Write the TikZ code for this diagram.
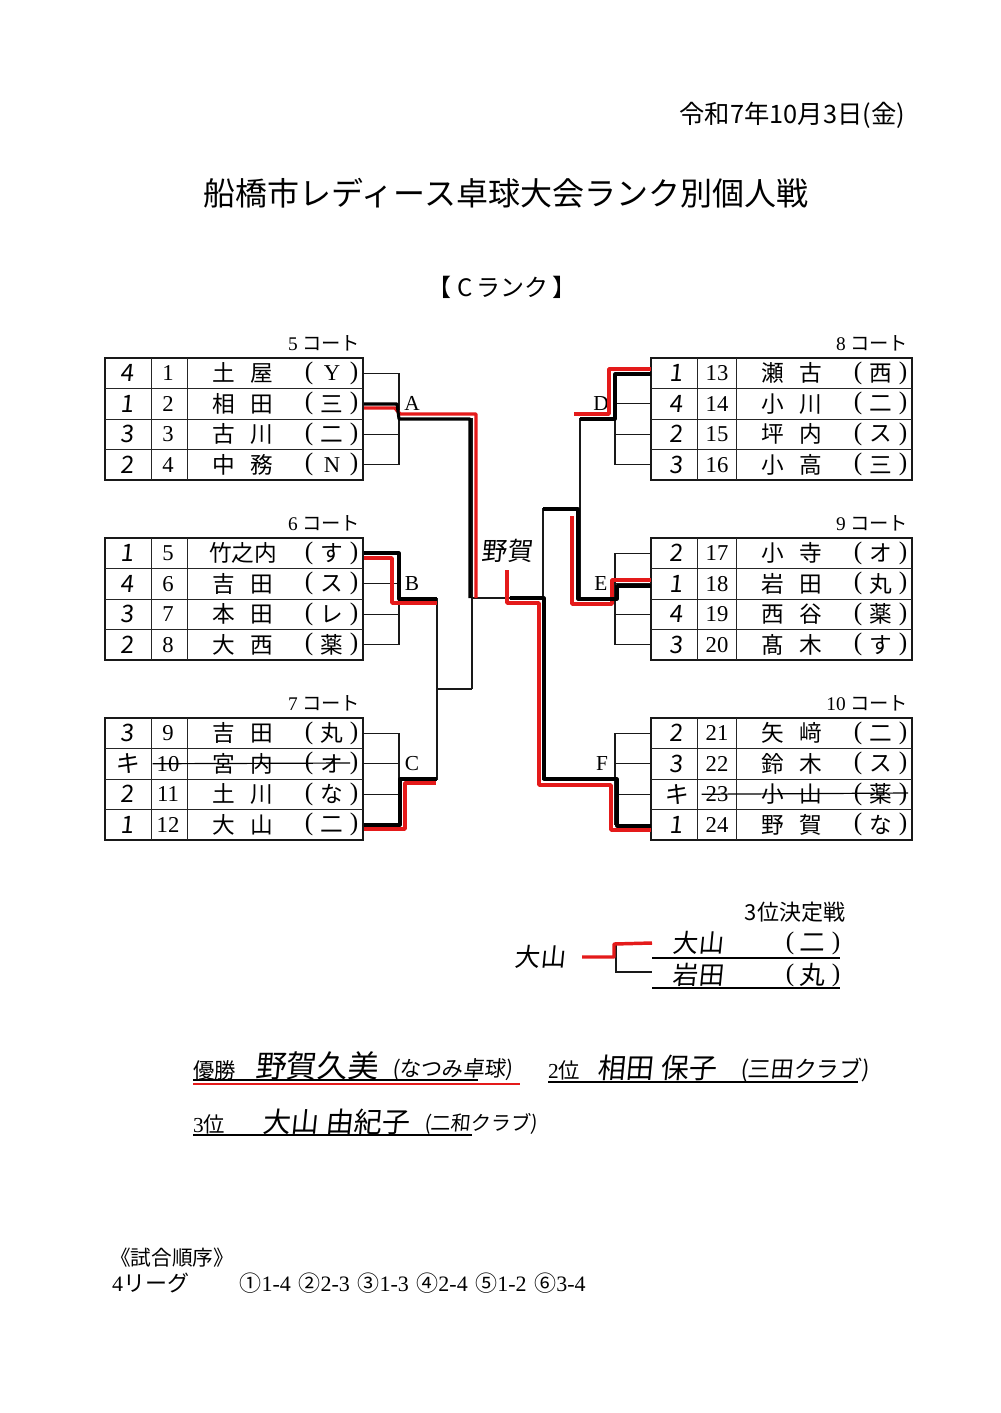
\documentclass[tikz,border=0pt]{standalone}
\usepackage{fontspec}
\setmainfont{Liberation Serif}
\newfontfamily\cjk{Noto Sans CJK JP}
\newfontfamily\hand[FakeSlant=0.1]{Noto Sans CJK JP}
\newcommand\fs[1]{\fontsize{#1}{#1}\selectfont}
\newcommand\nsep{\hspace{11.5pt}}
\definecolor{hlred}{RGB}{228,26,26}
\newcommand\PRow[7]{%
  \node[hnd]   (rk#7) at (#1-60,#2) {#3};
  \node[numf]  (no#7) at (#1-19,#2) {#4};
  \node[namef] (nm#7) at (#1+56,#2) {#5};
  \node[parf]  (po#7) at (#1+122,#2) {(};
  \node[namef] (af#7) at (#1+145,#2) {#6};
  \node[parf]  (pc#7) at (#1+167,#2) {)};
}
\newcommand\Tbl[5]{%
  \draw[tbl] (#1,#5) rectangle (#4,#5+122);
  \draw[tin] (#2,#5) -- (#2,#5+122) (#3,#5) -- (#3,#5+122);
  \foreach \k in {30.5,61,91.5} \draw[tin] (#1,#5+\k) -- (#4,#5+\k);
}
\newcommand\BrL[2]{%
  \foreach \k in {15.25,45.75,76.25,106.75} \draw[brk] (363,#1+\k) -- (399,#1+\k);
  \draw[brk] (399,#1+15.25) -- (399,#1+106.75);
  \coordinate (#2) at (399,#1+61);
}
\newcommand\BrR[2]{%
  \foreach \k in {15.25,45.75,76.25,106.75} \draw[brk] (651,#1+\k) -- (615,#1+\k);
  \draw[brk] (615,#1+15.25) -- (615,#1+106.75);
  \coordinate (#2) at (615,#1+61);
}
\begin{document}
\begin{tikzpicture}[x=0.75pt,y=-0.75pt,
  every node/.style={inner sep=0pt,outer sep=0pt},
  tbl/.style={line width=1.1pt,black!90},
  tin/.style={line width=0.7pt,black!85},
  brk/.style={line width=0.8pt,black!90},
  winb/.style={line width=2.3pt,black,line join=round},
  winr/.style={line width=2.6pt,hlred,line join=round},
  hnd/.style={font=\hand\fs{18}},
  numf/.style={font=\fs{17}},
  namef/.style={font=\cjk\fs{17}},
  parf/.style={font=\fs{19}},
  lbl/.style={font=\fs{16}},
  court/.style={font=\cjk\fs{14.5},anchor=east},
  hw/.style={font=\hand\fs{19}}]
\fill[white] (0,0) rectangle (1000,1413);
\useasboundingbox (0,0) rectangle (1000,1413);

% header
\node[font=\cjk\fs{19},anchor=east] (date) at (905,115) {令和7年10月3日(金)};
\node[font=\cjk\fs{24}] (title) at (506,193) {船橋市レディース卓球大会ランク別個人戦};
\node[font=\cjk\fs{18}] (rank) at (502,287) {【\hspace{5pt}C\hspace{3pt}ランク\hspace{3pt}】};

% court labels
\node[court] (k5) at (360,343) {{\rmfamily 5} コート};
\node[court] (k6) at (360,523) {{\rmfamily 6} コート};
\node[court] (k7) at (360,703) {{\rmfamily 7} コート};
\node[court] (k8) at (908,343) {{\rmfamily 8} コート};
\node[court] (k9) at (908,523) {{\rmfamily 9} コート};
\node[court] (k10) at (908,703) {{\rmfamily 10} コート};

% tables
\Tbl{105}{151}{187}{363}{358}
\Tbl{105}{151}{187}{363}{538}
\Tbl{105}{151}{187}{363}{718}
\Tbl{651}{697}{736}{912}{358}
\Tbl{651}{697}{736}{912}{538}
\Tbl{651}{697}{736}{912}{718}

% rows
\PRow{187}{373.25}{4}{1}{土\nsep 屋}{{\rmfamily Y}}{1}
\PRow{187}{403.75}{1}{2}{相\nsep 田}{三}{2}
\PRow{187}{434.25}{3}{3}{古\nsep 川}{二}{3}
\PRow{187}{464.75}{2}{4}{中\nsep 務}{{\rmfamily N}}{4}
\PRow{187}{553.25}{1}{5}{竹之内}{す}{5}
\PRow{187}{583.75}{4}{6}{吉\nsep 田}{ス}{6}
\PRow{187}{614.25}{3}{7}{本\nsep 田}{レ}{7}
\PRow{187}{644.75}{2}{8}{大\nsep 西}{薬}{8}
\PRow{187}{733.25}{3}{9}{吉\nsep 田}{丸}{9}
\PRow{187}{763.75}{キ}{10}{宮\nsep 内}{オ}{10}
\PRow{187}{794.25}{2}{11}{土\nsep 川}{な}{11}
\PRow{187}{824.75}{1}{12}{大\nsep 山}{二}{12}
\PRow{736}{373.25}{1}{13}{瀬\nsep 古}{西}{13}
\PRow{736}{403.75}{4}{14}{小\nsep 川}{二}{14}
\PRow{736}{434.25}{2}{15}{坪\nsep 内}{ス}{15}
\PRow{736}{464.75}{3}{16}{小\nsep 高}{三}{16}
\PRow{736}{553.25}{2}{17}{小\nsep 寺}{オ}{17}
\PRow{736}{583.75}{1}{18}{岩\nsep 田}{丸}{18}
\PRow{736}{614.25}{4}{19}{西\nsep 谷}{薬}{19}
\PRow{736}{644.75}{3}{20}{髙\nsep 木}{す}{20}
\PRow{736}{733.25}{2}{21}{矢\nsep 﨑}{二}{21}
\PRow{736}{763.75}{3}{22}{鈴\nsep 木}{ス}{22}
\PRow{736}{794.25}{キ}{23}{小\nsep 山}{薬}{23}
\PRow{736}{824.75}{1}{24}{野\nsep 賀}{な}{24}

% strike-through of withdrawn players
\draw[line width=0.9pt] (no10.west) ++(-4,0) -- (350,763);
\draw[line width=0.9pt] (no23.west) ++(-4,0) -- (908,793);

% group brackets
\BrL{358}{Aout}
\BrL{538}{Bout}
\BrL{718}{Cout}
\BrR{358}{Dout}
\BrR{538}{Eout}
\BrR{718}{Fout}
\node[lbl] (LA) at (412,403.75) {A};
\node[lbl] (LB) at (412,583.75) {B};
\node[lbl] (LC) at (412,763.75) {C};
\node[lbl] (LD) at (601,403.75) {D};
\node[lbl] (LE) at (601,583.75) {E};
\node[lbl] (LF) at (602,763.75) {F};

% main bracket
\coordinate (s1) at (472,419);
\coordinate (s1b) at (472,689);
\coordinate (fl) at (472,598);
\coordinate (fr) at (543,598);
\coordinate (s2) at (580,419);
\coordinate (s2b) at (580,599);
\draw[brk] (Aout) -- (s1) -- (s1b);
\draw[brk] (Bout) -- (437,599) -- (437,779) -- (Cout);
\draw[brk] (437,689) -- (s1b);
\draw[brk] (fl) -- (fr);
\draw[brk] (Dout) -- (s2) -- (s2b) -- (Eout);
\draw[brk] (580,509) -- (543,509) -- (543,779) -- (Fout);

% winner marks (red + black)
\draw[winr] (364,408) -- (395,408) -- (400,414) -- (476,414) -- (476,598);
\draw[winb] (364,404) -- (397,404) -- (399,419) -- (470,419) -- (470,598);
\draw[winr] (364,558) -- (392,558) -- (392,603) -- (437,603);
\draw[winb] (364,553) -- (399,553) -- (399,599) -- (437,599);
\draw[winr] (364,829) -- (405,829) -- (405,783) -- (436,783);
\draw[winb] (364,825) -- (400,825) -- (400,779) -- (437,779);
\draw[winr] (651,369) -- (609,369) -- (609,414) -- (574,414);
\draw[winb] (651,374) -- (615,374) -- (615,419) -- (580,419);
\draw[winr] (651,580) -- (612,580) -- (612,604) -- (572,604) -- (572,516);
\draw[winb] (651,586) -- (617,586) -- (617,599) -- (578,599) -- (578,509) -- (543,509);
\draw[winr] (651,830) -- (611,830) -- (611,785) -- (539,785) -- (539,603) -- (507,603) -- (507,570);
\draw[winb] (651,826) -- (617,826) -- (617,779) -- (544,779) -- (544,598) -- (510,598);
\node[hw] (champ) at (507,551) {野賀};

% third place
\node[font=\cjk\fs{16.5}] (t3) at (795,912) {3位決定戦};
\coordinate (q1) at (652,943);
\coordinate (q2) at (652,972);
\draw[brk] (q1) -- (616,943) -- (616,972) -- (q2);
\draw[winr] (582,957) -- (614,957) -- (614,944) -- (q1);
\draw[line width=0.8pt] (652,958) -- (840,958);
\draw[line width=0.8pt] (652,988) -- (840,988);
\node[hw] (w3) at (540,957) {大山};
\node[hw] (p31) at (698,943) {大山};
\node[parf] (p31o) at (790,943) {(};
\node[hw] (p31a) at (812,943) {二};
\node[parf] (p31c) at (836,943) {)};
\node[hw] (p32) at (698,975) {岩田};
\node[parf] (p32o) at (790,975) {(};
\node[hw] (p32a) at (812,975) {丸};
\node[parf] (p32c) at (836,975) {)};

% results
\node[font=\cjk\fs{16},anchor=west] (r1) at (193,1070) {優勝};
\node[font=\hand\fs{23},anchor=west] (r1n) at (255,1066) {野賀久美};
\node[font=\hand\fs{16},anchor=west] (r1c) at (392,1070) {(なつみ卓球)};
\node[font=\cjk\fs{16},anchor=west] (r2) at (548,1070) {{\rmfamily 2}位};
\node[font=\hand\fs{21},anchor=west] (r2n) at (597,1068) {相田\hspace{6pt}保子};
\node[font=\hand\fs{17},anchor=west] (r2c) at (740,1070) {(三田クラブ)};
\node[font=\cjk\fs{16},anchor=west] (r3) at (193,1124) {{\rmfamily 3}位};
\node[font=\hand\fs{21},anchor=west] (r3n) at (262,1122) {大山\hspace{6pt}由紀子};
\node[font=\hand\fs{15},anchor=west] (r3c) at (424,1124) {(二和クラブ)};
\draw[line width=0.9pt] (193,1080) -- (478,1080);
\draw[line width=1.8pt,hlred] (193,1084) -- (520,1084);
\draw[line width=0.9pt] (548,1082) -- (858,1082);
\draw[line width=0.9pt] (193,1135) -- (472,1135);

% match order
\node[font=\cjk\fs{15.5},anchor=west] (o1) at (110,1258) {《試合順序》};
\node[font=\cjk\fs{16.5},anchor=west] (o2) at (112,1283) {{\rmfamily 4}リーグ\hspace{38pt}①{\rmfamily 1-4}\hspace{2pt} ②{\rmfamily 2-3}\hspace{2pt} ③{\rmfamily 1-3}\hspace{2pt} ④{\rmfamily 2-4}\hspace{2pt} ⑤{\rmfamily 1-2}\hspace{2pt} ⑥{\rmfamily 3-4}};
\end{tikzpicture}
\end{document}
